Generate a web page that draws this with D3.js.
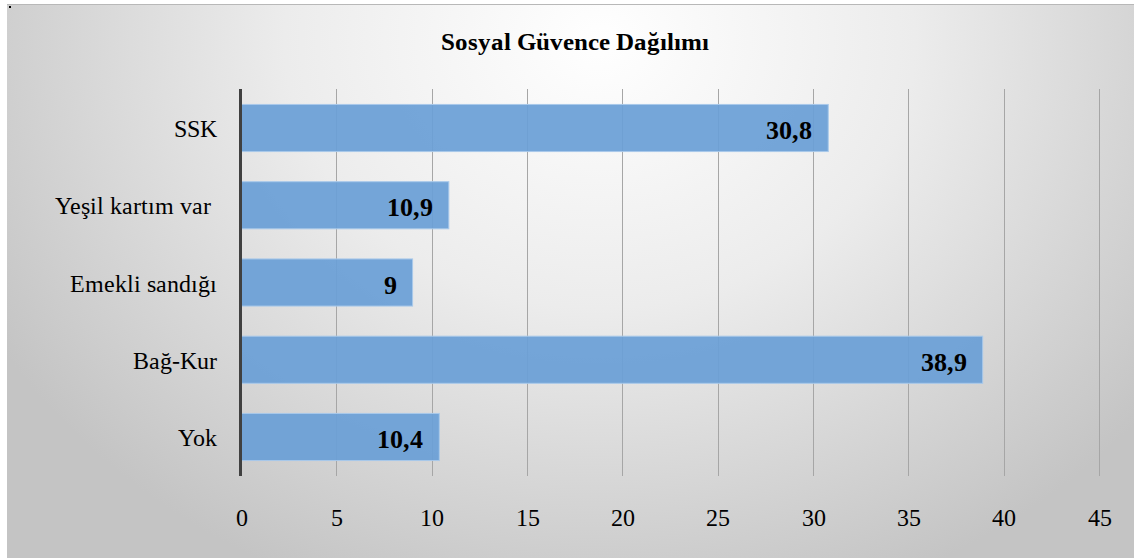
<!DOCTYPE html>
<html><head>
<script src="https://cdn.jsdelivr.net/npm/d3@7"></script>
<style>
@font-face { font-family: "ChartSerif"; src: local("Liberation Serif"), local("LiberationSerif"), local("Times New Roman"); font-weight: normal; }
@font-face { font-family: "ChartSerif"; src: local("Liberation Serif Bold"), local("LiberationSerif-Bold"), local("Times New Roman Bold"); font-weight: bold; }
</style>
</head>
<body>
<script>
const categories = ["SSK", "Yeşil kartım var ", "Emekli sandığı", "Bağ-Kur", "Yok"];
const values = [30.8, 10.9, 9, 38.9, 10.4];
const valueLabels = ["30,8", "10,9", "9", "38,9", "10,4"];
const tickValues = [0, 5, 10, 15, 20, 25, 30, 35, 40, 45];
const title = "Sosyal Güvence Dağılımı";

const FONT = '"ChartSerif"';
const W = 1134, H = 558;
d3.select("body").style("margin", "0px").style("padding", "0px");
const svg = d3.select("body").append("svg").attr("width", W).attr("height", H)
  .style("display", "block");
const defs = svg.append("defs");
const grad = defs.append("radialGradient").attr("id", "bg")
  .attr("gradientUnits", "userSpaceOnUse")
  .attr("cx", 600).attr("cy", 40).attr("r", 700)
  .attr("gradientTransform", "translate(600,40) scale(1,0.85) translate(-600,-40)");
grad.append("stop").attr("offset", "0").attr("stop-color", "#ffffff");
grad.append("stop").attr("offset", "0.45").attr("stop-color", "#ececec");
grad.append("stop").attr("offset", "1").attr("stop-color", "#c4c4c4");

svg.append("rect").attr("x", 7).attr("y", 4).attr("width", W - 7).attr("height", H - 4).attr("fill", "url(#bg)");
svg.append("line").attr("x1", 7).attr("x2", W).attr("y1", 4.5).attr("y2", 4.5).attr("stroke", "#b8b8b8").attr("stroke-width", 1);
svg.append("rect").attr("x", 9).attr("y", 6).attr("width", 2).attr("height", 2).attr("fill", "#000");

const x = d3.scaleLinear().domain([0, 45]).range([241, 1099]);
const y = d3.scaleBand().domain(categories).range([89, 476]).paddingInner(0.39).paddingOuter(0.2);

// grid
svg.append("g").selectAll("line").data(tickValues.filter(d => d > 0)).join("line")
  .attr("x1", d => Math.round(x(d)) + 0.5).attr("x2", d => Math.round(x(d)) + 0.5)
  .attr("y1", 89).attr("y2", 476)
  .attr("stroke", "#a6a6a6").attr("stroke-width", 1);

// bars
svg.append("g").selectAll("rect").data(values).join("rect")
  .attr("x", x(0)).attr("y", (d, i) => y(categories[i]))
  .attr("width", d => x(d) - x(0)).attr("height", y.bandwidth())
  .attr("fill", "#6a9fd6").attr("fill-opacity", 0.93)
  .attr("stroke", "#a9c9ea").attr("stroke-width", 1);

// value labels
svg.append("g").selectAll("text").data(values).join("text")
  .attr("x", d => x(d) - 16).attr("y", (d, i) => y(categories[i]) + y.bandwidth() / 2 + 11)
  .attr("text-anchor", "end")
  .style("font-family", FONT).attr("font-weight", "bold").attr("font-size", 26)
  .attr("fill", "#000")
  .text((d, i) => valueLabels[i]);

// y axis line
svg.append("line").attr("x1", 240.5).attr("x2", 240.5).attr("y1", 89).attr("y2", 476)
  .attr("stroke", "#404040").attr("stroke-width", 3);

// category labels
svg.append("g").selectAll("text").data(categories).join("text")
  .attr("x", 217).attr("y", d => y(d) + y.bandwidth() / 2 + 9)
  .attr("text-anchor", "end")
  .attr("xml:space", "preserve")
  .style("font-family", FONT).attr("font-size", 24)
  .attr("fill", "#000")
  .text(d => d);

// x axis tick labels
const xAxis = d3.axisBottom(x).tickValues(tickValues).tickSize(0).tickPadding(0).tickFormat(d => String(d));
const gx = svg.append("g").attr("transform", "translate(0,526)").call(xAxis);
gx.select(".domain").remove();
gx.attr("font-family", null).attr("font-size", null);
gx.selectAll("text").style("font-family", FONT).attr("font-size", 24)
  .attr("fill", "#000").attr("dy", null).attr("y", 0);

// title
svg.append("text").attr("x", 575).attr("y", 50).attr("text-anchor", "middle")
  .style("font-family", FONT).attr("font-weight", "bold").attr("font-size", 25)
  .attr("fill", "#000")
  .text(title);
</script>
</body></html>
